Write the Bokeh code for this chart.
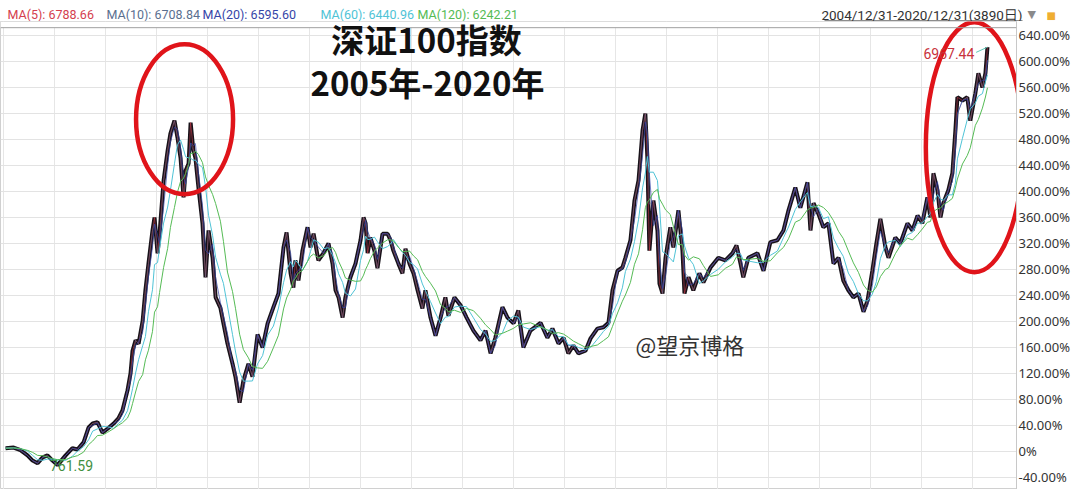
from bokeh.plotting import figure
from bokeh.models import Range1d, FixedTicker, Label, Span, BoxAnnotation, ColumnDataSource
from bokeh.embed import file_html
from bokeh.resources import INLINE

# trading-day index (0 = 2004/12/31) and change vs. base in percent
days = [0, 32, 59, 87, 107, 127, 147, 166, 186, 206,
        238, 265, 285, 309, 329, 345, 364, 384, 404, 428,
        447, 463, 483, 495, 503, 515, 527, 543, 554, 566,
        582, 590, 602, 610, 626, 642, 653, 669, 681, 693,
        705, 713, 725, 733, 744, 752, 764, 780, 792, 804,
        820, 832, 851, 863, 879, 899, 911, 927, 942, 962,
        978, 998, 1018, 1038, 1061, 1081, 1101, 1113, 1129, 1140,
        1148, 1160, 1176, 1196, 1208, 1220, 1239, 1259, 1279, 1295,
        1307, 1319, 1335, 1346, 1366, 1386, 1406, 1418, 1426, 1434,
        1445, 1461, 1473, 1493, 1513, 1525, 1536, 1556, 1572, 1584,
        1600, 1616, 1632, 1651, 1663, 1683, 1703, 1723, 1742, 1754,
        1778, 1802, 1826, 1853, 1881, 1901, 1921, 1940, 1968, 1988,
        2012, 2031, 2051, 2079, 2119, 2146, 2166, 2190, 2210, 2229,
        2249, 2269, 2297, 2317, 2344, 2368, 2388, 2404, 2424, 2443,
        2455, 2475, 2491, 2507, 2523, 2534, 2542, 2550, 2566, 2582,
        2590, 2602, 2614, 2633, 2645, 2665, 2681, 2689, 2705, 2724,
        2748, 2764, 2792, 2823, 2851, 2879, 2895, 2911, 2922, 2942,
        2978, 3002, 3029, 3057, 3081, 3101, 3128, 3148, 3176, 3188,
        3200, 3219, 3239, 3259, 3279, 3299, 3318, 3338, 3358, 3378,
        3398, 3414, 3433, 3449, 3465, 3485, 3497, 3524, 3544, 3572,
        3592, 3612, 3631, 3651, 3663, 3675, 3691, 3703, 3714, 3734,
        3750, 3762, 3770, 3790, 3809, 3821, 3841, 3853, 3869, 3881,
        3889]

close_pct = [5, 6, 2, -6, -14, -18, -9, -6, -14, -21,
             -6, 5, 3, 14, 37, 43, 45, 29, 35, 43,
             51, 63, 94, 120, 155, 171, 166, 201, 248, 289,
             340, 360, 305, 335, 417, 463, 489, 509, 483, 452,
             391, 432, 443, 506, 463, 452, 406, 351, 268, 340,
             298, 237, 221, 197, 166, 135, 114, 75, 109, 135,
             115, 180, 160, 197, 222, 243, 314, 337, 274, 252,
             294, 263, 309, 345, 314, 335, 294, 305, 320, 289,
             248, 237, 206, 237, 268, 289, 325, 360, 351, 305,
             329, 309, 282, 335, 335, 325, 309, 289, 274, 312,
             289, 274, 248, 220, 248, 206, 178, 206, 237, 209,
             237, 225, 206, 186, 171, 186, 151, 175, 222, 206,
             197, 217, 160, 186, 198, 175, 189, 166, 175, 151,
             163, 151, 155, 174, 189, 191, 198, 248, 278, 283,
             298, 325, 386, 417, 494, 520, 452, 309, 386, 340,
             258, 243, 298, 345, 314, 371, 309, 243, 268, 248,
             274, 260, 283, 298, 294, 305, 317, 289, 268, 298,
             305, 278, 322, 325, 340, 371, 406, 375, 414, 340,
             382, 366, 345, 351, 289, 298, 263, 248, 237, 243,
             215, 232, 278, 320, 358, 314, 298, 329, 320, 351,
             340, 363, 351, 391, 360, 428, 402, 360, 382, 402,
             428, 494, 545, 540, 545, 509, 551, 582, 560, 582,
             622]

ma_windows = [5, 10, 20, 60, 120]
ma_names = ["MA(5): 6788.66", "MA(10): 6708.84", "MA(20): 6595.60",
            "MA(60): 6440.96", "MA(120): 6242.21"]
ma_colors = ["#d4404e", "#5b6f8f", "#3645a8", "#4fc3d6", "#55bb55"]

y_ticks = list(range(-40, 641, 40))
grid_days = [-8, 194, 396, 598, 800, 1002, 1204, 1406, 1608, 1810,
             2012, 2214, 2416, 2618, 2820, 3022, 3224, 3426, 3628, 3830]

max_text = "6967.44"
min_text = "761.59"
date_text = "2004/12/31-2020/12/31(3890日)"
title1 = "深证100指数"
title2 = "2005年-2020年"
watermark = "@望京博格"

LATIN = "Roboto"
CJK = "Noto Sans CJK SC"


def rolling(d, v, n):
    out = []
    for i, di in enumerate(d):
        w = [vv for dd, vv in zip(d, v) if di - n < dd <= di]
        out.append(sum(w) / len(w))
    return out


# ---------------- header strip (pixel-like coordinates) ----------------
h = figure(width=1080, height=21, output_backend="svg", toolbar_location=None,
           x_range=Range1d(0, 1080), y_range=Range1d(0, 21),
           x_axis_location=None, y_axis_location=None,
           min_border_left=0, min_border_right=0, min_border_top=0, min_border_bottom=0)
h.outline_line_color = None
h.xgrid.visible = False
h.ygrid.visible = False
h.background_fill_color = "white"
h.border_fill_color = "white"

head_x = [7, 106, 202, 320, 417]
for hx, txt, col in zip(head_x, ma_names, ma_colors):
    h.add_layout(Label(x=hx, y=7, text=txt, text_align="left", text_baseline="middle",
                       text_font=LATIN, text_font_size="12.5px", text_color=col))
h.add_layout(Label(x=1022, y=7, text=date_text, text_align="right", text_baseline="middle",
                   text_font=LATIN, text_font_size="13.5px", text_color="#333333"))
h.segment(x0=[824], y0=[0.6], x1=[1022], y1=[0.6], line_color="#444444", line_width=1)
h.add_layout(Label(x=1027, y=7, text="▼", text_align="left", text_baseline="middle",
                   text_font="DejaVu Sans", text_font_size="11px", text_color="#8a8a8a"))
h.add_layout(Label(x=1046, y=6, text="■", text_align="left", text_baseline="middle",
                   text_font="DejaVu Sans", text_font_size="10px", text_color="#efae32"))

# ---------------- main chart ----------------
src = ColumnDataSource(dict(day=days, close=close_pct))
for n in ma_windows:
    src.data["ma%d" % n] = rolling(days, close_pct, n)

p = figure(width=1080, height=468, output_backend="svg", toolbar_location=None,
           x_range=Range1d(-20, 4004), y_range=Range1d(-58.5, 661.5),
           y_axis_location="right", x_axis_location=None,
           min_border_left=0, min_border_top=0, min_border_bottom=0, min_border_right=64)
p.background_fill_color = "white"
p.border_fill_color = "white"
p.outline_line_color = "#d0d0d0"

p.xgrid.ticker = FixedTicker(ticks=grid_days)
p.ygrid.ticker = FixedTicker(ticks=y_ticks)
p.xgrid.grid_line_color = "#e6e6e6"
p.ygrid.grid_line_color = "#e3e3e3"

ax = p.yaxis[0]
ax.ticker = FixedTicker(ticks=y_ticks)
ax.major_label_overrides = {t: ("0%" if t == 0 else "%.2f%%" % t) for t in y_ticks}
ax.axis_line_color = "#c8c8c8"
ax.major_tick_line_color = None
ax.minor_tick_line_color = None
ax.major_tick_out = 0
ax.major_tick_in = 0
ax.major_label_standoff = 2
ax.major_label_text_font = "Noto Sans"
ax.major_label_text_font_size = "13px"
ax.major_label_text_color = "#333333"

# thin white strip above the header rule
p.add_layout(BoxAnnotation(bottom=652, fill_color="white", fill_alpha=1.0,
                           line_alpha=0, level="underlay"))
p.add_layout(Span(location=652, dimension="width", line_color="#a0a0a0", line_width=1))

# price (candle band) and moving averages
p.line("day", "close", source=src, line_color="#171219", line_width=4)
p.line("day", "ma5", source=src, line_color=ma_colors[0], line_width=1, line_alpha=0.55)
p.line("day", "ma10", source=src, line_color=ma_colors[1], line_width=1, line_alpha=0.5)
p.line("day", "ma20", source=src, line_color=ma_colors[2], line_width=1, line_alpha=0.7)
p.line("day", "ma60", source=src, line_color=ma_colors[3], line_width=1)
p.line("day", "ma120", source=src, line_color=ma_colors[4], line_width=1)

# max / min labels
imax = max(range(len(close_pct)), key=lambda i: close_pct[i])
imin = min(range(len(close_pct)), key=lambda i: close_pct[i])
p.segment(x0=[days[imax] - 45], y0=[close_pct[imax] - 8], x1=[days[imax]], y1=[close_pct[imax]],
          line_color="#5fc9b8", line_width=1)
p.add_layout(Label(x=days[imax] - 52, y=close_pct[imax] - 10, text=max_text,
                   text_align="right", text_baseline="middle", text_font=LATIN,
                   text_font_size="14px", text_color="#c8323c"))
p.add_layout(Label(x=days[imin] - 30, y=close_pct[imin] - 1, text=min_text,
                   text_align="left", text_baseline="middle", text_font=LATIN,
                   text_font_size="14px", text_color="#3f8f3f"))

# red ellipses
p.ellipse(x=[709], y=[511], width=97, height=150, width_units="screen", height_units="screen",
          fill_alpha=0, line_color="#e0141a", line_width=4.5)
p.ellipse(x=[3837], y=[468], width=97, height=250, width_units="screen", height_units="screen",
          fill_alpha=0, line_color="#e0141a", line_width=4.5)

# title and watermark
p.add_layout(Label(x=1667, y=634, text=title1, text_align="center", text_baseline="middle",
                   text_font=CJK, text_font_size="33px", text_font_style="bold",
                   text_color="#111111"))
p.add_layout(Label(x=1671, y=569, text=title2, text_align="center", text_baseline="middle",
                   text_font=CJK, text_font_size="33px", text_font_style="bold",
                   text_color="#111111"))
p.add_layout(Label(x=2495, y=166, text=watermark, text_align="left", text_baseline="middle",
                   text_font=CJK, text_font_size="22px", text_color="#333333"))

open("out.html", "w").write(file_html([h, p], INLINE))
